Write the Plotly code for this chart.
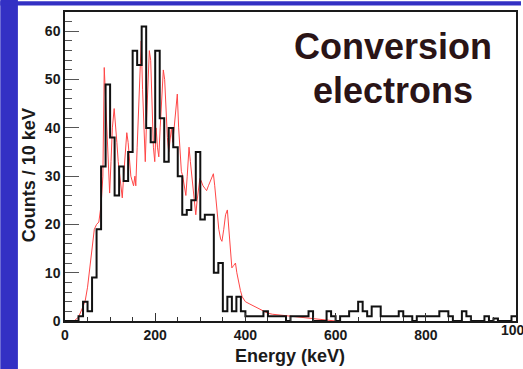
import numpy as np
import plotly.graph_objects as go

# ---- data ----
bin_width = 10  # keV
# measured counts per 10 keV bin, 0..1000 keV (100 bins)
counts = [
    0, 0, 0, 1, 4, 2, 9, 19, 32, 49,          # 0-100
    38, 26, 32, 29, 35, 56, 53, 61, 40, 37,   # 100-200
    56, 42, 33, 40, 36, 30, 22, 23, 25, 35,   # 200-300
    21, 22, 22, 10, 12, 2, 5, 2, 5, 2,        # 300-400
    1, 1, 1, 1, 2, 1, 1, 1, 1, 0,             # 400-500
    1, 1, 1, 1, 2, 0, 0, 0, 2, 1,             # 500-600
    0, 1, 1, 2, 2, 4, 2, 1, 3, 3,             # 600-700
    1, 1, 1, 1, 2, 1, 1, 0, 1, 1,             # 700-800
    1, 1, 1, 2, 2, 1, 0, 0, 2, 1,             # 800-900
    0, 0, 0, 1, 0, 0.5, 0, 0, 0, 1,           # 900-1000
]

# simulated spectrum (red)
sim_e = [20, 30, 40, 45, 50, 55, 60, 65, 70, 75, 80, 84, 87, 90, 93, 96, 99,
         102, 105, 109, 112, 115, 118, 121, 124, 127, 130, 133, 137, 140, 143,
         146, 149, 152, 155, 157, 160, 163, 166, 169, 172, 175, 178, 181, 184,
         187, 190, 193, 196, 199, 202, 205, 208, 211, 214, 218, 221, 224, 227,
         230, 233, 236, 239, 242, 245, 249, 252, 255, 258, 261, 264, 268, 271,
         275, 278, 281, 284, 287, 290, 293, 296, 299, 302, 306, 310, 314, 318,
         322, 326, 329, 332, 335, 338, 341, 345, 348, 352, 356, 360, 363, 366,
         370, 374, 378, 381, 385, 389, 393, 397, 400, 410, 420, 430, 440, 450,
         460, 470, 480, 490, 500, 510, 520, 530, 540, 550, 560, 570, 580, 590, 600]
sim_v = [0, 0.8, 3, 4.3, 7, 11, 16, 19, 20, 20.5, 24, 30, 52.5, 46, 36, 30, 26.5,
         33, 40, 44, 41, 37, 33, 30, 27, 25.5, 30, 34, 39, 37, 33,
         30, 29, 28, 30, 28, 36, 44, 52, 58, 48, 38, 33, 42, 50,
         56, 54, 44, 36, 33, 40, 36, 34, 40, 46, 52, 50, 43, 38,
         35, 38, 40, 37, 40, 44, 47, 40, 34, 31, 30, 28, 26, 30,
         36, 33, 30, 27, 24, 22, 25, 28, 29.5, 29, 28, 27.5, 27, 28,
         29, 30, 30.5, 28, 25, 22, 19, 17, 16.5, 19, 22, 23, 19, 15,
         11, 11.5, 12, 10, 8, 6.3, 5, 4.5, 4, 3.5, 3, 2.6, 2.1, 1.6,
         1.4, 1.3, 1.2, 1.1, 1.0, 0.9, 0.8, 0.7, 0.6, 0.5, 0.4, 0.3, 0.2, 0.1, 0]

x_ticks = [0, 200, 400, 600, 800, 1000]
y_ticks = [0, 10, 20, 30, 40, 50, 60]

# ---- layout geometry (pixels) ----
W, H = 523, 369
ML, MR, MT, MB = 65, 5, 12, 48
PW, PH = W - ML - MR, H - MT - MB

def px(x):
    return (x - ML) / PW

def py(y):
    return 1 - (y - MT) / PH

BLUE = "#3330c4"
FONT = "Liberation Sans, Arial, sans-serif"
TXT = "#1a1a1a"

edges = [i * bin_width for i in range(len(counts) + 1)]
step_y = counts + [counts[-1]]

fig = go.Figure()
fig.add_trace(go.Scatter(x=sim_e, y=sim_v, mode="lines",
                         line=dict(color="#ff4646", width=1), hoverinfo="skip"))
fig.add_trace(go.Scatter(x=edges, y=step_y, mode="lines", line_shape="hv",
                         line=dict(color="#111111", width=2), hoverinfo="skip"))

fig.update_layout(
    width=W, height=H,
    margin=dict(l=ML, r=MR, t=MT, b=MB, pad=0),
    paper_bgcolor="white", plot_bgcolor="white",
    showlegend=False,
    font=dict(family=FONT, color=TXT),
)

fig.update_xaxes(
    range=[0, 1000], tickvals=x_ticks[:-1], ticktext=[str(v) for v in x_ticks[:-1]],
    ticks="inside", ticklen=8, tickwidth=1, tickcolor="#333",
    minor=dict(dtick=50, ticks="inside", ticklen=4, tickcolor="#333", tickwidth=1),
    showgrid=False, zeroline=False,
    showline=True, linecolor=TXT, linewidth=1.5, mirror=True,
    tickfont=dict(size=14, weight="bold", family=FONT, color=TXT),
    ticklabelstandoff=0,
)
fig.update_yaxes(
    range=[0, 64], tickvals=y_ticks, ticktext=[str(v) for v in y_ticks],
    ticks="inside", ticklen=14, tickwidth=1, tickcolor="#555",
    minor=dict(dtick=2, ticks="inside", ticklen=7, tickcolor="#555", tickwidth=1),
    showgrid=False, zeroline=False,
    showline=True, linecolor=TXT, linewidth=1.5, mirror=True,
    tickfont=dict(size=14, weight="bold", family=FONT, color=TXT),
    ticklabelstandoff=0,
)

# last x tick label at the range end (plotly drops it at the boundary)
fig.add_annotation(text=str(x_ticks[-1]), xref="x", yref="paper",
                   x=x_ticks[-1], y=py(330), xanchor="center", yanchor="middle",
                   showarrow=False, font=dict(size=14, weight="bold", family=FONT, color=TXT))

# blue slide frame (left strip and top band)
fig.add_shape(type="rect", xref="paper", yref="paper",
              x0=px(0), x1=px(17.7), y0=py(H), y1=py(0),
              fillcolor=BLUE, line_width=0, layer="above")
fig.add_shape(type="rect", xref="paper", yref="paper",
              x0=px(0), x1=px(W), y0=py(5.5), y1=py(1.3),
              fillcolor=BLUE, line_width=0, layer="above")

# axis titles
fig.add_annotation(text="Energy (keV)", xref="paper", yref="paper",
                   x=px(291), y=py(356), xanchor="center", yanchor="middle",
                   showarrow=False, font=dict(size=18, weight="bold", family=FONT, color=TXT))
fig.add_annotation(text="Counts / 10 keV", xref="paper", yref="paper",
                   x=px(29), y=py(175), xanchor="center", yanchor="middle",
                   textangle=-90, showarrow=False,
                   font=dict(size=18, weight="bold", family=FONT, color=TXT))

# in-plot label
LABEL_C = "#2a1416"
fig.add_annotation(text="Conversion", xref="paper", yref="paper",
                   x=px(394), y=py(46.3), xanchor="center", yanchor="middle",
                   showarrow=False, font=dict(size=36, weight="bold", family=FONT, color=LABEL_C))
fig.add_annotation(text="electrons", xref="paper", yref="paper",
                   x=px(394), y=py(90.3), xanchor="center", yanchor="middle",
                   showarrow=False, font=dict(size=36, weight="bold", family=FONT, color=LABEL_C))

fig.write_html("out.html")
